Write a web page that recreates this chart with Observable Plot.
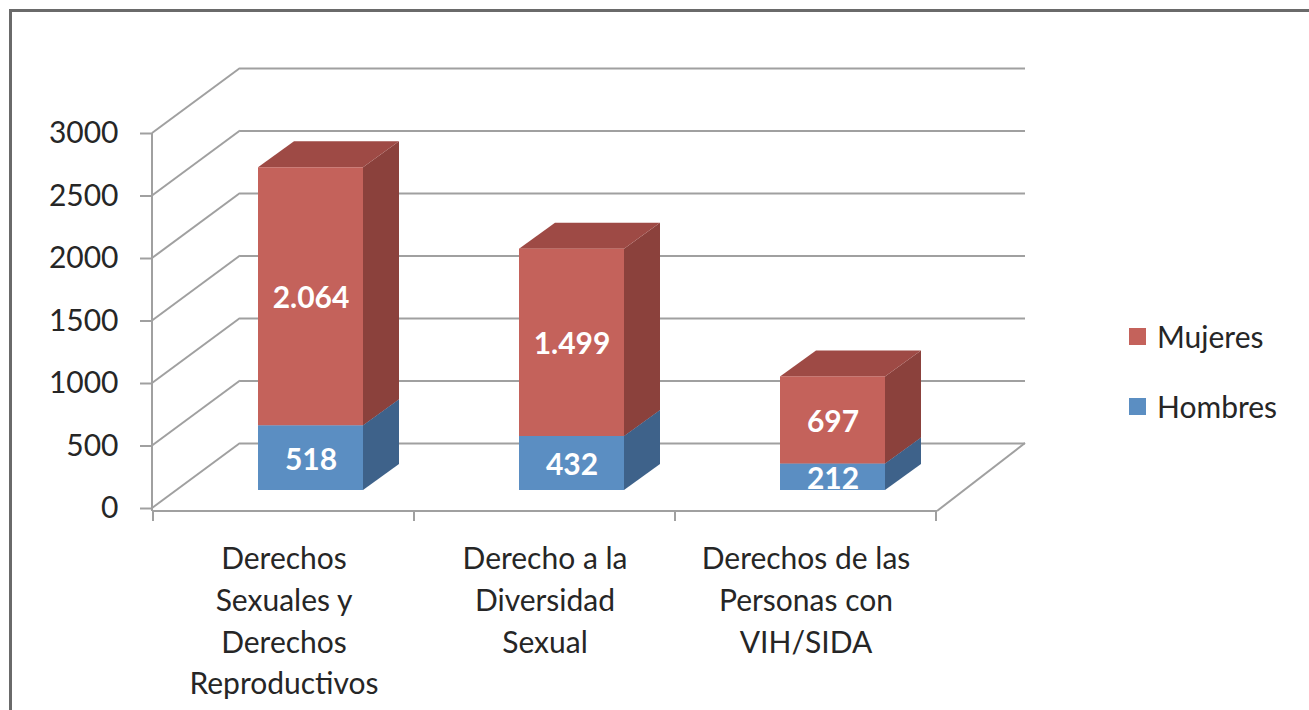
<!DOCTYPE html>
<html>
<head>
<meta charset="utf-8">
<script src="https://cdn.jsdelivr.net/npm/d3@7"></script>
<script src="https://cdn.jsdelivr.net/npm/@observablehq/plot@0.6"></script>
<style>
  html, body { margin: 0; padding: 0; background: #fff; }
  #wrap { position: relative; width: 1309px; height: 710px; overflow: hidden; font-family: Lato, "Open Sans", sans-serif; }
  #border { position: absolute; left: 9px; top: 9px; width: 1400px; height: 800px; border-top: 3px solid #6a6a6a; border-left: 3px solid #6a6a6a; box-sizing: border-box; }
  #chart { position: absolute; left: 0; top: 0; }
  .leg { position: absolute; left: 1129px; display: flex; align-items: center; font-size: 30px; color: #262626; }
  .leg span.sw { display: inline-block; width: 17px; height: 17px; margin-right: 11px; }
</style>
</head>
<body>
<div id="wrap">
  <div id="border"></div>
  <div id="chart"></div>
  <div id="legend"></div>
</div>
<script>
// ---- data ----
const categories = [
  "Derechos Sexuales y Derechos Reproductivos",
  "Derecho a la Diversidad Sexual",
  "Derechos de las Personas con VIH/SIDA"
];
const categoryLabels = [
  "Derechos\nSexuales y\nDerechos\nReproductivos",
  "Derecho a la\nDiversidad\nSexual",
  "Derechos de las\nPersonas con\nVIH/SIDA"
];
const seriesNames = ["Hombres", "Mujeres"];
const hombres = [518, 432, 212];
const mujeres = [2064, 1499, 697];
const hombresLabels = ["518", "432", "212"];
const mujeresLabels = ["2.064", "1.499", "697"];
const yTicks = [0, 500, 1000, 1500, 2000, 2500, 3000];
const legendOrder = ["Mujeres", "Hombres"];

// colours
const frontColors = ["#5b8ec2", "#c4625b"];
const topColors = ["#4a76a5", "#9e4a45"];
const sideColors = ["#3e628a", "#8b413c"];
const gridColor = "#a0a0a0";

// ---- build stacked rows ----
const rows = [];
categories.forEach((c, i) => {
  rows.push({category: c, series: "Hombres", y1: 0, y2: hombres[i], label: hombresLabels[i]});
});
categories.forEach((c, i) => {
  rows.push({category: c, series: "Mujeres", y1: hombres[i], y2: hombres[i] + mujeres[i], label: mujeresLabels[i]});
});

// 3D geometry (pixels)
const WALL_DX = 88, WALL_DY = -65;   // back wall offset
const BAR_DX = 27, BAR_DY = -18;     // bar front face offset from front plane
const DEPTH_DX = 36, DEPTH_DY = -26; // bar depth
const FACE_W = 105;

const fmtCat = d => categoryLabels[categories.indexOf(d)];

// walls, floor and axis lines drawn from the scales
function wallsMark(index, scales, values, dims) {
  const g = d3.create("svg:g").attr("fill", "none").attr("stroke", gridColor).attr("stroke-width", 2);
  const x0 = dims.marginLeft, x1 = dims.width - dims.marginRight;
  const y = scales.y;
  const y0 = y(0);
  for (const t of yTicks) {
    g.append("line").attr("x1", x0).attr("y1", y(t)).attr("x2", x0 + WALL_DX).attr("y2", y(t) + WALL_DY);
  }
  // floor right edge
  g.append("line").attr("x1", x1).attr("y1", y0 + 3).attr("x2", x1 + WALL_DX).attr("y2", y0 + WALL_DY);
  // floor front edge
  g.append("line").attr("x1", x0).attr("y1", y0 + 3).attr("x2", x1).attr("y2", y0 + 3);
  // vertical axis line
  g.append("line").attr("x1", x0).attr("y1", y(3000)).attr("x2", x0).attr("y2", y0 + 3);
  // category boundary ticks
  const bw = scales.x.bandwidth();
  const bounds = categories.map(c => scales.x(c)).concat([scales.x(categories[categories.length - 1]) + bw]);
  for (const b of bounds) {
    g.append("line").attr("x1", b).attr("y1", y0 + 3).attr("x2", b).attr("y2", y0 + 13);
  }
  return g.node();
}

function bars3D(index, scales, values, dims) {
  const g = d3.create("svg:g");
  const bw = scales.x.bandwidth();
  const inset = (bw - FACE_W) / 2;
  for (const i of index) {
    const d = rows[i];
    const s = seriesNames.indexOf(d.series);
    const L = scales.x(d.category) + inset + BAR_DX;
    const R = L + FACE_W;
    const T = scales.y(d.y2) + BAR_DY;
    const B = scales.y(d.y1) + BAR_DY;
    // side face
    g.append("path").attr("fill", sideColors[s])
      .attr("d", `M${R},${B}L${R + DEPTH_DX},${B + DEPTH_DY}L${R + DEPTH_DX},${T + DEPTH_DY}L${R},${T}Z`);
    // top face
    g.append("path").attr("fill", topColors[s])
      .attr("d", `M${L},${T}L${L + DEPTH_DX},${T + DEPTH_DY}L${R + DEPTH_DX},${T + DEPTH_DY}L${R},${T}Z`);
    // front face
    g.append("rect").attr("fill", frontColors[s]).attr("x", L).attr("y", T).attr("width", FACE_W).attr("height", B - T);
  }
  return g.node();
}

const chart = Plot.plot({
  width: 1309,
  height: 710,
  marginLeft: 152,
  marginRight: 372,
  marginTop: 133,
  marginBottom: 202,
  style: {fontFamily: "Lato, 'Open Sans', sans-serif", color: "#262626", background: "transparent"},
  x: {domain: categories, padding: 0, label: null},
  y: {domain: [0, 3000], label: null},
  color: {domain: seriesNames, range: frontColors},
  marks: [
    Plot.ruleY(yTicks, {dx: WALL_DX, dy: WALL_DY, stroke: gridColor, strokeWidth: 2}),
    wallsMark,
    Plot.barY(rows, {x: "category", y1: "y1", y2: "y2", fill: "series", render: bars3D}),
    Plot.text(rows, {
      x: "category", y: d => (d.y1 + d.y2) / 2, text: "label",
      dx: BAR_DX, dy: BAR_DY + 2, fill: "white", fontWeight: "bold", fontSize: 30
    }),
    Plot.axisY({ticks: yTicks, tickSize: 12, tickPadding: 22, fontSize: 30, stroke: gridColor, strokeWidth: 2, tickFormat: d => String(d)}),
    Plot.axisX({tickSize: 0, tickPadding: 31, fontSize: 30, lineHeight: 1.39, tickFormat: fmtCat})
  ]
});
document.getElementById("chart").appendChild(chart);

// legend
const legend = document.getElementById("legend");
const legendTops = [318, 388];
legendOrder.forEach((name, k) => {
  const item = document.createElement("div");
  item.className = "leg";
  item.style.top = legendTops[k] + "px";
  const sw = document.createElement("span");
  sw.className = "sw";
  sw.style.background = frontColors[seriesNames.indexOf(name)];
  const tx = document.createElement("span");
  tx.textContent = name;
  item.appendChild(sw);
  item.appendChild(tx);
  legend.appendChild(item);
});
</script>
</body>
</html>
